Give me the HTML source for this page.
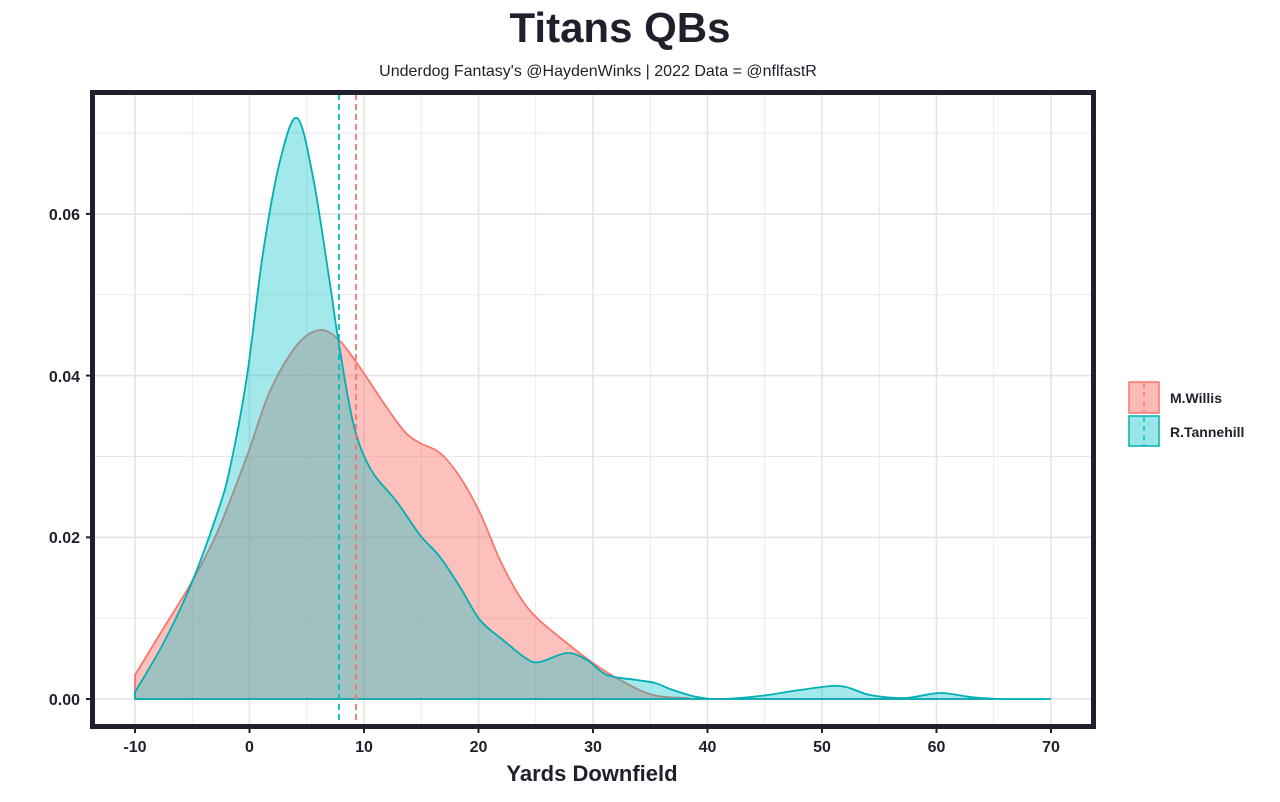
<!DOCTYPE html>
<html><head><meta charset="utf-8"><style>
body{margin:0;background:#fff;width:1280px;height:797px;overflow:hidden;font-family:"Liberation Sans",sans-serif}
</style></head><body>
<svg id="s" width="1280" height="797" xmlns="http://www.w3.org/2000/svg" font-family="Liberation Sans, sans-serif">
<rect width="1280" height="797" fill="#fff"/>
<g id="grid"></g>
<path id="red" fill="#F8766D" fill-opacity="0.45" stroke="#F8766D" stroke-width="1.8"/>
<path id="teal" fill="#00BFC4" fill-opacity="0.36" stroke="#00AFB4" stroke-width="1.8"/>
<line x1="339" y1="94" x2="339" y2="725" stroke="#00BFC4" stroke-width="1.8" stroke-dasharray="6,4"/>
<line x1="356" y1="94" x2="356" y2="725" stroke="#F8766D" stroke-width="1.8" stroke-dasharray="6,4"/>
<rect x="92.5" y="92.5" width="1001" height="634" fill="none" stroke="#1e212b" stroke-width="5"/>
<text x="620" y="42" text-anchor="middle" font-size="42" font-weight="bold" fill="#1e212b">Titans QBs</text>
<text x="598" y="76" text-anchor="middle" font-size="16" fill="#1e212b">Underdog Fantasy's @HaydenWinks | 2022 Data = @nflfastR</text>
<g font-size="16" font-weight="bold" fill="#1e212b" text-anchor="end">
<text x="80" y="705">0.00</text><text x="80" y="543">0.02</text><text x="80" y="382">0.04</text><text x="80" y="220">0.06</text>
</g>
<g id="xt" font-size="16" font-weight="bold" fill="#1e212b" text-anchor="middle"></g>
<text x="592" y="781" text-anchor="middle" font-size="22" font-weight="bold" fill="#1e212b">Yards Downfield</text>
<rect x="1129" y="382" width="30" height="31" fill="#F8766D" fill-opacity="0.5" stroke="#F8766D" stroke-width="1.5"/>
<line x1="1144" y1="383" x2="1144" y2="412" stroke="#F8766D" stroke-width="1.5" stroke-dasharray="5,4"/>
<rect x="1129" y="416" width="30" height="30" fill="#00BFC4" fill-opacity="0.4" stroke="#00AFB4" stroke-width="1.5"/>
<line x1="1144" y1="417" x2="1144" y2="445" stroke="#00BFC4" stroke-width="1.5" stroke-dasharray="5,4"/>
<text x="1170" y="403" font-size="14" font-weight="bold" fill="#1e212b">M.Willis</text>
<text x="1170" y="437" font-size="14" font-weight="bold" fill="#1e212b">R.Tannehill</text>
</svg>
<script>
function X(v){return 249.5+v*11.45} function Y(v){return 699-v*8085}
var g=document.getElementById('grid'),h='';
for(var v=-10;v<=70;v+=5){var x=X(v);h+='<line x1="'+x+'" y1="95" x2="'+x+'" y2="725" stroke="#e4e4e4" stroke-width="'+(v%10==0?1.6:0.8)+'"/>';}
for(var k=0;k<=7;k++){var y=Y(k*0.01);h+='<line x1="95" y1="'+y+'" x2="1091" y2="'+y+'" stroke="#e4e4e4" stroke-width="'+(k%2==0?1.6:0.8)+'"/>';}
g.innerHTML=h;
var t='';for(var v=-10;v<=70;v+=10){var x=X(v);t+='<text x="'+x+'" y="752">'+v+'</text><line x1="'+x+'" y1="727" x2="'+x+'" y2="733" stroke="#1e212b" stroke-width="2"/>';}
for(var k=0;k<=3;k++){var y=Y(k*0.02);t+='<line x1="86" y1="'+y+'" x2="92" y2="'+y+'" stroke="#1e212b" stroke-width="2"/>';}
document.getElementById('xt').innerHTML=t;
function cr(p){var d='M'+p[0][0]+','+p[0][1];for(var i=0;i<p.length-1;i++){var a=p[i-1]||p[i],b=p[i],c=p[i+1],e=p[i+2]||c;
d+=' C'+(b[0]+(c[0]-a[0])/6)+','+(b[1]+(c[1]-a[1])/6)+' '+(c[0]-(e[0]-b[0])/6)+','+(c[1]-(e[1]-b[1])/6)+' '+c[0]+','+c[1];}return d;}
var teal=[[135,692],[163,644],[190,587],[217,514],[230,468],[247,376],[263,253],[280,161],[297,118],[313,177],[330,284],[338,338],[353,422],[370,468],[397,502],[420,535],[440,557],[460,587],[480,620],[503,640],[527,659],[540,662],[567,653],[587,660],[607,675],[637,680],[655,683],[673,690],[697,697],[720,699],[760,696],[800,690],[840,686],[870,695],[905,698],[940,693],[970,697],[1000,699],[1051,699]];
var red=[[135,675],[163,629],[190,585],[217,533],[247,456],[270,391],[297,345],[320,330],[340,341],[363,372],[385,405],[405,432],[420,443],[440,453],[460,477],[480,513],[500,560],[520,597],[537,618],[563,640],[593,663],[620,680],[653,695],[687,698],[720,699],[994,699]];
function path(p,id){var d=cr(p);d+=' L'+p[p.length-1][0]+',699 L'+p[0][0]+',699 Z';document.getElementById(id).setAttribute('d',d);}
path(red,'red');path(teal,'teal');
</script>
</body></html>
